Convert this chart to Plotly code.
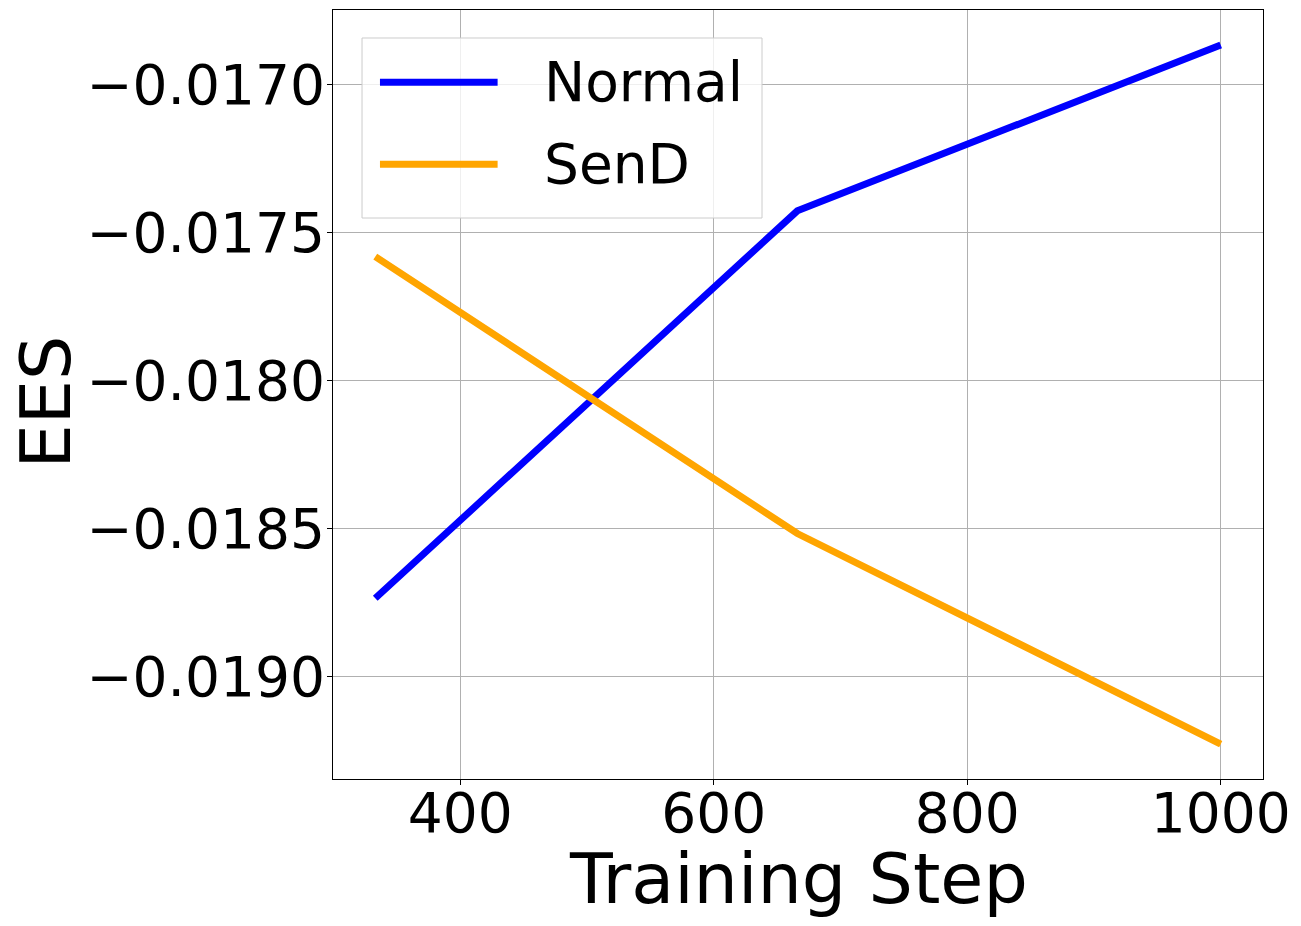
import plotly.graph_objects as go

# data
steps = [333, 666, 1000]
normal_ees = [-0.018736, -0.017426, -0.016865]
send_ees = [-0.017581, -0.018517, -0.019229]

series_names = ["Normal", "SenD"]
series_colors = ["#0000ff", "#ffa500"]

x_ticks = [400, 600, 800, 1000]
y_ticks = [-0.0190, -0.0185, -0.0180, -0.0175, -0.0170]

FONT = "DejaVu Sans"

fig = go.Figure()
for name, ys, col in zip(series_names, [normal_ees, send_ees], series_colors):
    fig.add_trace(go.Scatter(x=steps, y=ys, mode="lines", name=name,
                             line=dict(color=col, width=7), showlegend=False))

# matplotlib-like legend box drawn by hand (long line samples)
fig.add_shape(type="rect", xref="paper", yref="paper",
              x0=0.0312, x1=0.4613, y0=0.7295, y1=0.9636,
              line=dict(color="#cccccc", width=1), fillcolor="rgba(255,255,255,0.8)",
              layer="above")
for i, (name, col) in enumerate(zip(series_names, series_colors)):
    yy = 0.906 - i * 0.1067
    fig.add_shape(type="line", xref="paper", yref="paper",
                  x0=0.0505, x1=0.177, y0=yy, y1=yy,
                  line=dict(color=col, width=7), layer="above")
    fig.add_annotation(x=0.2244, y=yy, xref="paper", yref="paper", text=name,
                       showarrow=False, xanchor="left", yanchor="middle",
                       font=dict(family=FONT, size=55, color="black"))

# axis titles as annotations so they can sit where matplotlib puts them
fig.add_annotation(x=0.5, y=0, xref="paper", yref="paper", text="Training Step",
                   showarrow=False, xanchor="center", yanchor="middle", yshift=-100,
                   font=dict(family=FONT, size=70, color="black"))
fig.add_annotation(x=0, y=0.5, xref="paper", yref="paper", text="EES", textangle=-90,
                   showarrow=False, xanchor="center", yanchor="middle",
                   xshift=-288, yshift=-8,
                   font=dict(family=FONT, size=70, color="black"))

axis_common = dict(showline=True, linecolor="black", linewidth=1, mirror=True,
                   ticks="outside", ticklen=5, tickcolor="black", automargin=False,
                   showgrid=True, gridcolor="#b0b0b0", gridwidth=1,
                   zeroline=False, tickfont=dict(family=FONT, size=55, color="black"))

fig.update_xaxes(range=[299.65, 1033.35], tickvals=x_ticks, ticklabelstandoff=-19,
                 **axis_common)
fig.update_yaxes(range=[-0.019347, -0.016747], tickvals=y_ticks, tickformat=".4f",
                 ticklabelstandoff=-9, **axis_common)

# margins compensate for the 8px page body margin
fig.update_layout(width=1301, height=926, margin=dict(l=325, r=46, t=2, b=155),
                  plot_bgcolor="white", paper_bgcolor="white",
                  font=dict(family=FONT, color="black"))

fig.write_html("out.html")
